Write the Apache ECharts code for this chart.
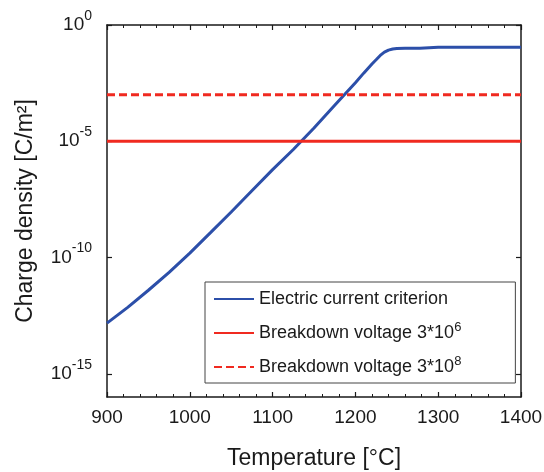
<!DOCTYPE html>
<html>
<head>
<meta charset="utf-8">
<title>Charge density vs temperature</title>
<script src="https://cdn.jsdelivr.net/npm/echarts@6/dist/echarts.min.js"></script>
<style>
  html, body { margin: 0; padding: 0; background: #fff; }
  #chart { width: 544px; height: 472px; }
</style>
</head>
<body>
<div id="chart"></div>
<script>
  // temperature [°C] and charge density [C/m²]
  var temperature = [900, 925, 950, 975, 1000, 1025, 1050, 1075, 1100, 1125, 1150, 1175,
    1200, 1210, 1220, 1225, 1230, 1235, 1240, 1245, 1250, 1260, 1278, 1280, 1300, 1350, 1400]
  var currentCriterion = [1.5e-13, 7.2e-13, 3.9e-12, 2.3e-11, 1.55e-10, 1.17e-9, 9.1e-9, 7.4e-8,
    6.0e-7, 4.4e-6, 3.7e-5, 3.5e-4, 3.3e-3, 8.5e-3, 2.1e-2, 3.2e-2, 4.9e-2, 6.8e-2, 8.3e-2,
    9.3e-2, 9.8e-2, 1.0e-1, 1.0e-1, 1.1e-1, 1.1e-1, 1.1e-1, 1.1e-1]
  var breakdown6 = [1e-5, 1e-5]   // 3*10^6
  var breakdown8 = [1e-3, 1e-3]   // 3*10^8
  var lineEnds = [900, 1400]

  var yTicks = [-15, -10, -5, 0]
  var names = ['Electric current criterion', 'Breakdown voltage 3*10', 'Breakdown voltage 3*10 ']
  var legendSup = ['', '6', '8']

  var font = 'Liberation Sans'
  var ink = '#1a1a1a'

  function toPairs(xs, ys) {
    return xs.map(function (x, i) { return [x, Math.log10(ys[i])] })
  }

  var chart = echarts.init(document.getElementById('chart'), null, { renderer: 'canvas' })

  var xBase = {
    type: 'value',
    min: 900,
    max: 1400,
    interval: 100,
    splitLine: { show: false },
    axisLine: { show: true, onZero: false, lineStyle: { color: ink, width: 1.5 } },
    axisTick: { show: true, inside: true, length: 5, lineStyle: { color: ink, width: 1.2 } },
    minorTick: { show: true, splitNumber: 5, length: 3, lineStyle: { color: ink, width: 1 } }
  }
  var yBase = {
    type: 'value',
    min: -16,
    max: 0,
    splitLine: { show: false },
    axisLine: { show: true, onZero: false, lineStyle: { color: ink, width: 1.5 } },
    axisTick: { show: true, inside: true, length: 5, customValues: yTicks, lineStyle: { color: ink, width: 1.2 } }
  }

  var option = {
    backgroundColor: '#fff',
    animation: false,
    grid: { left: 107, right: 23, top: 25, bottom: 75, outerBoundsMode: 'none' },
    legend: {
      orient: 'vertical',
      left: 205,
      top: 282,
      padding: [8, 54, 7, 8],
      itemWidth: 40,
      itemHeight: 14,
      itemGap: 13,
      borderColor: '#444',
      borderWidth: 1,
      backgroundColor: '#fff',
      itemStyle: { opacity: 0 },
      data: names,
      formatter: function (name) {
        var i = names.indexOf(name)
        var txt = '{a|' + name.trim() + '}'
        if (legendSup[i]) txt += '{s|' + legendSup[i] + '}'
        return txt
      },
      textStyle: {
        rich: {
          a: { fontFamily: font, fontSize: 18, color: ink, lineHeight: 24 },
          s: { fontFamily: font, fontSize: 13, color: ink, lineHeight: 13, verticalAlign: 'top' }
        }
      }
    },
    xAxis: [
      Object.assign({}, xBase, {
        position: 'bottom',
        name: 'Temperature [°C]',
        nameLocation: 'middle',
        nameGap: 50,
        nameTextStyle: { fontFamily: font, fontSize: 23, color: ink },
        axisLabel: {
          fontFamily: font, fontSize: 19, color: ink, margin: 11,
          formatter: function (v) { return String(v) }
        }
      }),
      Object.assign({}, xBase, { position: 'top', axisLabel: { show: false } })
    ],
    yAxis: [
      Object.assign({}, yBase, {
        position: 'left',
        name: 'Charge density [C/m²]',
        nameLocation: 'middle',
        nameGap: 70,
        nameTextStyle: { fontFamily: font, fontSize: 23, color: ink },
        axisLabel: {
          customValues: yTicks,
          margin: 15,
          formatter: function (v) { return '{b|10}{s|' + v + '}' },
          rich: {
            b: { fontFamily: font, fontSize: 19, color: ink, lineHeight: 32 },
            s: { fontFamily: font, fontSize: 14, color: ink, lineHeight: 14, verticalAlign: 'top' }
          }
        }
      }),
      Object.assign({}, yBase, { position: 'right', axisLabel: { show: false } })
    ],
    series: [
      {
        name: names[0],
        type: 'line',
        symbol: 'none',
        lineStyle: { color: '#2c4fa9', width: 3 },
        itemStyle: { color: '#2c4fa9' },
        data: toPairs(temperature, currentCriterion),
        z: 3
      },
      {
        name: names[1],
        type: 'line',
        symbol: 'none',
        lineStyle: { color: '#f02a20', width: 3 },
        itemStyle: { color: '#f02a20' },
        data: toPairs(lineEnds, breakdown6)
      },
      {
        name: names[2],
        type: 'line',
        symbol: 'none',
        lineStyle: { color: '#f02a20', width: 3, type: [8, 4] },
        itemStyle: { color: '#f02a20' },
        data: toPairs(lineEnds, breakdown8)
      }
    ]
  }

  chart.setOption(option)
</script>
</body>
</html>
